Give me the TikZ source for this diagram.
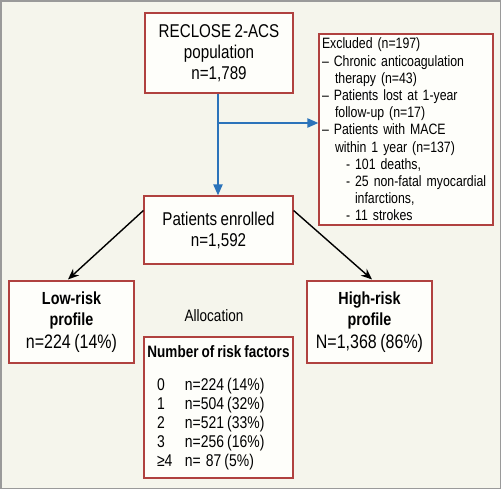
\documentclass[tikz,border=0pt]{standalone}
\usepackage{fontspec}
\setmainfont{Liberation Sans}[FakeStretch=0.82,WordSpace=0.8]
\usetikzlibrary{arrows.meta,calc}
\definecolor{bg}{HTML}{F5F5EC}
\definecolor{boxfill}{HTML}{FEFEFA}
\definecolor{boxline}{HTML}{B0413F}
\definecolor{arrblue}{HTML}{2B73BA}
\definecolor{frame}{HTML}{9A9A9A}
\begin{document}
\begin{tikzpicture}[x=1pt,y=-1pt,
  box/.style={draw=boxline,fill=boxfill,line width=1.1pt,inner sep=0pt,align=center},
  bigtxt/.style={font=\fontsize{18.5}{21}\selectfont},
  midtxt/.style={font=\fontsize{17.5}{21.5}\selectfont},
  smalltxt/.style={font=\fontsize{15}{17.2}\selectfont},
  bluearrow/.style={draw=arrblue,line width=2pt,-{Triangle[length=11pt,width=9pt]}},
  blackarrow/.style={draw=black,line width=1.4pt,-{Stealth[length=11pt,width=9pt]}}
]
\fill[bg,draw=frame,line width=1.5pt] (0.75,0.75) rectangle (500.5,488.5);
\useasboundingbox (0,0) rectangle (502,490);

\node[box,bigtxt,minimum width=148pt,minimum height=80pt] (top) at (219,53)
  {RECLOSE 2-ACS\\population\\n=1,789};

\node[box,smalltxt,minimum width=174pt,minimum height=191pt,align=left,text width=168pt] (excl) at (406,129.5)
  {Excluded (n=197)\\
   -- Chronic anticoagulation\\
   \hspace*{13pt}therapy (n=43)\\
   -- Patients lost at 1-year\\
   \hspace*{13pt}follow-up (n=17)\\
   -- Patients with MACE\\
   \hspace*{13pt}within 1 year (n=137)\\
   \hspace*{24pt}- 101 deaths,\\
   \hspace*{24pt}- 25 non-fatal myocardial\\
   \hspace*{33pt}infarctions,\\
   \hspace*{24pt}- 11 strokes};

\node[box,bigtxt,minimum width=149pt,minimum height=68pt] (enr) at (218.5,230)
  {Patients enrolled\\n=1,592};

\node[box,midtxt,minimum width=125pt,minimum height=82pt] (low) at (71.5,322)
  {\textbf{Low-risk}\\\textbf{profile}\\[1.5pt]{\fontsize{19.5}{22}\selectfont n=224 (14\%)}};

\node[box,midtxt,minimum width=125pt,minimum height=82pt] (high) at (369.5,322)
  {\textbf{High-risk}\\\textbf{profile}\\[1.5pt]{\fontsize{19.5}{22}\selectfont N=1,368 (86\%)}};

\node[font=\fontsize{16.5}{18}\selectfont] (alloc) at (214,316) {Allocation};

\node[box,font=\fontsize{17}{19}\selectfont,minimum width=149pt,minimum height=141pt] (risk) at (218.5,407.5)
  {{\fontsize{16.5}{19}\selectfont\bfseries Number of risk factors}\\[14pt]
   \makebox[123pt][l]{\makebox[28pt][l]{0}n=224 (14\%)}\\
   \makebox[123pt][l]{\makebox[28pt][l]{1}n=504 (32\%)}\\
   \makebox[123pt][l]{\makebox[28pt][l]{2}n=521 (33\%)}\\
   \makebox[123pt][l]{\makebox[28pt][l]{3}n=256 (16\%)}\\
   \makebox[123pt][l]{\makebox[28pt][l]{≥4}n=\hspace*{5pt}87 (5\%)}};

\coordinate (br) at (218,123);
\draw[bluearrow] (top.south -| br) -- (enr.north -| br);
\draw[bluearrow] (br) -- (br -| excl.west);

\draw[blackarrow] ($(enr.north west)+(0,15)$) -- ($(low.north)+(-3.5,-1)$);
\draw[blackarrow] ($(enr.north east)+(0,15)$) -- ($(high.north)+(2.5,-1)$);
\end{tikzpicture}
\end{document}
